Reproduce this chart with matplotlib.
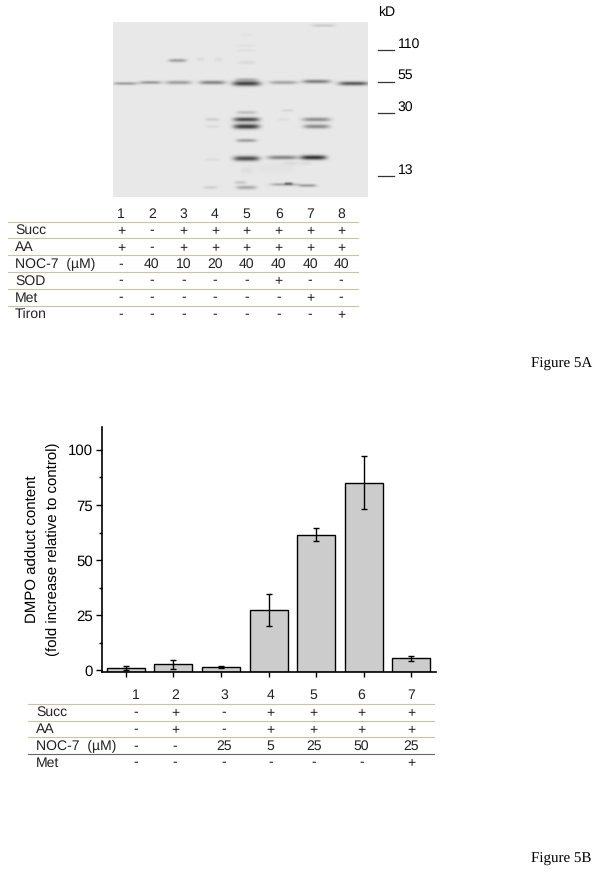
import matplotlib
matplotlib.use('Agg')
import matplotlib.pyplot as plt
import numpy as np

plt.rcParams['font.family'] = ['Liberation Sans', 'DejaVu Sans']
plt.rcParams['text.hinting'] = 'none'
plt.rcParams['text.hinting_factor'] = 1

# Panel A table
a_lanes = ['1', '2', '3', '4', '5', '6', '7', '8']
a_rows = ['Succ', 'AA', 'NOC-7  (µM)', 'SOD', 'Met', 'Tiron']
a_succ = ['+', '-', '+', '+', '+', '+', '+', '+']
a_aa = ['+', '-', '+', '+', '+', '+', '+', '+']
a_noc = ['-', '40', '10', '20', '40', '40', '40', '40']
a_sod = ['-', '-', '-', '-', '-', '+', '-', '-']
a_met = ['-', '-', '-', '-', '-', '-', '+', '-']
a_tiron = ['-', '-', '-', '-', '-', '-', '-', '+']

# Markers of the blot
kd_labels = ['110', '55', '30', '13']

# Blot bands: centre x, centre y, half width, half height, darkness (image pixels)
band_x = [125, 150, 178, 212, 246, 246, 246, 246, 246, 246, 246, 246, 240,
          283, 282, 284, 288, 316, 316, 316, 313, 307, 353, 287,
          177, 212, 212, 212, 323, 246, 246, 200, 218, 210, 290, 305, 283, 275,
          246, 246, 246]
band_y = [83, 82, 82, 82, 83, 79, 112, 119, 126, 140, 158, 187, 182,
          82, 157, 184, 183, 81, 119, 126, 157, 185, 83, 110,
          60, 119, 126, 159, 25, 62, 34, 59, 59, 187, 163, 163, 119, 168,
          45, 50, 170]
band_w = [12, 11, 13, 13, 14, 11, 10, 13, 13, 10, 13, 10, 6,
          14, 15, 14, 4, 14, 14, 13, 13, 9, 15, 6,
          9, 7, 7, 7, 12, 9, 6, 4, 4, 7, 8, 6, 6, 20,
          10, 10, 6]
band_h = [1.6, 1.7, 2.0, 2.0, 2.6, 1.7, 1.8, 2.3, 2.6, 1.8, 2.6, 2.0, 1.7,
          1.9, 2.1, 1.6, 1.5, 2.0, 2.1, 2.2, 2.4, 1.6, 2.1, 1.5,
          1.8, 1.7, 1.5, 1.5, 1.5, 1.8, 1.7, 2.0, 2.0, 1.7, 1.8, 1.8, 1.7, 5,
          1.7, 1.7, 4]
band_dark = [70, 75, 70, 95, 160, 45, 40, 150, 165, 70, 150, 60, 30,
             65, 95, 60, 80, 100, 85, 90, 175, 70, 135, 18,
             70, 25, 15, 12, 28, 14, 5, 12, 12, 24, 12, 12, 10, 6,
             6, 7, 10]

# Panel B table
b_lanes = ['1', '2', '3', '4', '5', '6', '7']
b_rows = ['Succ', 'AA', 'NOC-7  (µM)', 'Met']
b_succ = ['-', '+', '-', '+', '+', '+', '+']
b_aa = ['-', '+', '-', '+', '+', '+', '+']
b_noc = ['-', '-', '25', '5', '25', '50', '25']
b_met = ['-', '-', '-', '-', '-', '-', '+']

# Panel B bars
groups = [1, 2, 3, 4, 5, 6, 7]
dmpo = [1.1, 2.7, 1.5, 27.2, 61.6, 85.2, 5.4]
dmpo_err = [0.9, 1.9, 0.6, 7.3, 2.9, 12.2, 1.0]

W, H = 601, 876
fig = plt.figure(figsize=(W / 100, H / 100), dpi=100)

# full page axes in pixels for the table text and rules
page = fig.add_axes([0, 0, 1, 1])
page.axis('off')

# Blot
left, right, top, bottom = 113, 368, 22, 197
yy, xx = np.mgrid[top:bottom, left:right]
gel = np.full(xx.shape, 232.0)
for x0, y0, w, h, d in zip(band_x, band_y, band_w, band_h, band_dark):
    gel -= d * np.exp(-((xx - x0) / w) ** 4 - ((yy - y0) / h) ** 2)
page.imshow(np.clip(gel, 0, 255), cmap='gray', vmin=0, vmax=255,
            extent=(left, right, bottom, top), interpolation='bilinear', aspect='auto')
page.set_xlim(0, W)
page.set_ylim(H, 0)

# kD scale
page.text(378, 12, 'kD', fontsize=10, va='center')
for lab, ly, tx, ty in zip(kd_labels, [50, 82, 113, 176], [398, 397, 397, 398], [44, 75, 107, 170]):
    page.plot([378, 394], [ly, ly], color='#333333', lw=0.9)
    page.text(tx, ty, lab, fontsize=10, va='center')


def draw_table(header, rows, columns, col_x, head_y, row_y, line_y, line_x, label_x, line_colors):
    for x, t in zip(col_x, header):
        page.text(x, head_y, t, fontsize=10, ha='center', va='center', color='#222222')
    for name, vals, y in zip(rows, columns, row_y):
        page.text(label_x, y, name, fontsize=10, va='center', color='#222222')
        for x, v in zip(col_x, vals):
            page.text(x, y, v, fontsize=10, ha='center', va='center', color='#222222')
    for y, c in zip(line_y, line_colors):
        page.plot(line_x, [y, y], color=c, lw=0.8)


khaki = '#c9c5a2'
draw_table(a_lanes, a_rows, [a_succ, a_aa, a_noc, a_sod, a_met, a_tiron],
           [121, 151.7, 183.7, 215, 246.7, 278.7, 310, 341],
           214, [230.7, 247.3, 264.3, 281, 298, 314.3],
           [221.7, 238.3, 255.3, 272.3, 288.7, 305.7], [8, 358], 15, [khaki] * 6)
draw_table(b_lanes, b_rows, [b_succ, b_aa, b_noc, b_met],
           [135.7, 175, 224, 270.7, 313.7, 361.3, 411.3],
           695, [712.7, 729.7, 746.7, 763],
           [703.7, 720.7, 737.3, 754.3], [28.3, 434], 36,
           [khaki, khaki, khaki, '#666666'])

page.text(531, 364, 'Figure 5A', fontsize=11, family='Liberation Serif', va='center')
page.text(531, 859, 'Figure 5B', fontsize=11, family='Liberation Serif', va='center')

# Bar chart, bars stand on the axis line which sits just under zero
ymin = -0.9
ax = fig.add_axes([101.7 / W, 1 - 672.3 / H, (435.7 - 101.7) / W, (672.3 - 427) / H])
ax.bar(groups, np.array(dmpo) - ymin, bottom=ymin, width=0.8, color='#cccccc',
       edgecolor='black', linewidth=1.0)
ax.errorbar(groups, dmpo, yerr=dmpo_err, fmt='none', ecolor='black', elinewidth=1.0,
            capsize=2.5, capthick=1.0)
ax.set_xlim(0.496, 7.51)
ax.set_ylim(ymin, 110.4)
ax.patch.set_alpha(0)
ax.spines['top'].set_visible(False)
ax.spines['right'].set_visible(False)
ax.spines['left'].set_linewidth(1.2)
ax.spines['bottom'].set_linewidth(1.2)
ax.set_xticks(groups)
ax.set_xticklabels([])
ax.set_yticks([0, 25, 50, 75, 100])
ax.set_yticks([12.5, 37.5, 62.5, 87.5], minor=True)
ax.tick_params(axis='y', which='major', length=4.3, width=1.0, labelsize=11, pad=2)
ax.tick_params(axis='y', which='minor', length=2.2, width=1.0)
ax.tick_params(axis='x', length=3.6, width=1.0)
ax.set_ylabel('DMPO adduct content\n(fold increase relative to control)', fontsize=11,
              labelpad=6, linespacing=1.48)

plt.savefig('out.png', dpi=100)
